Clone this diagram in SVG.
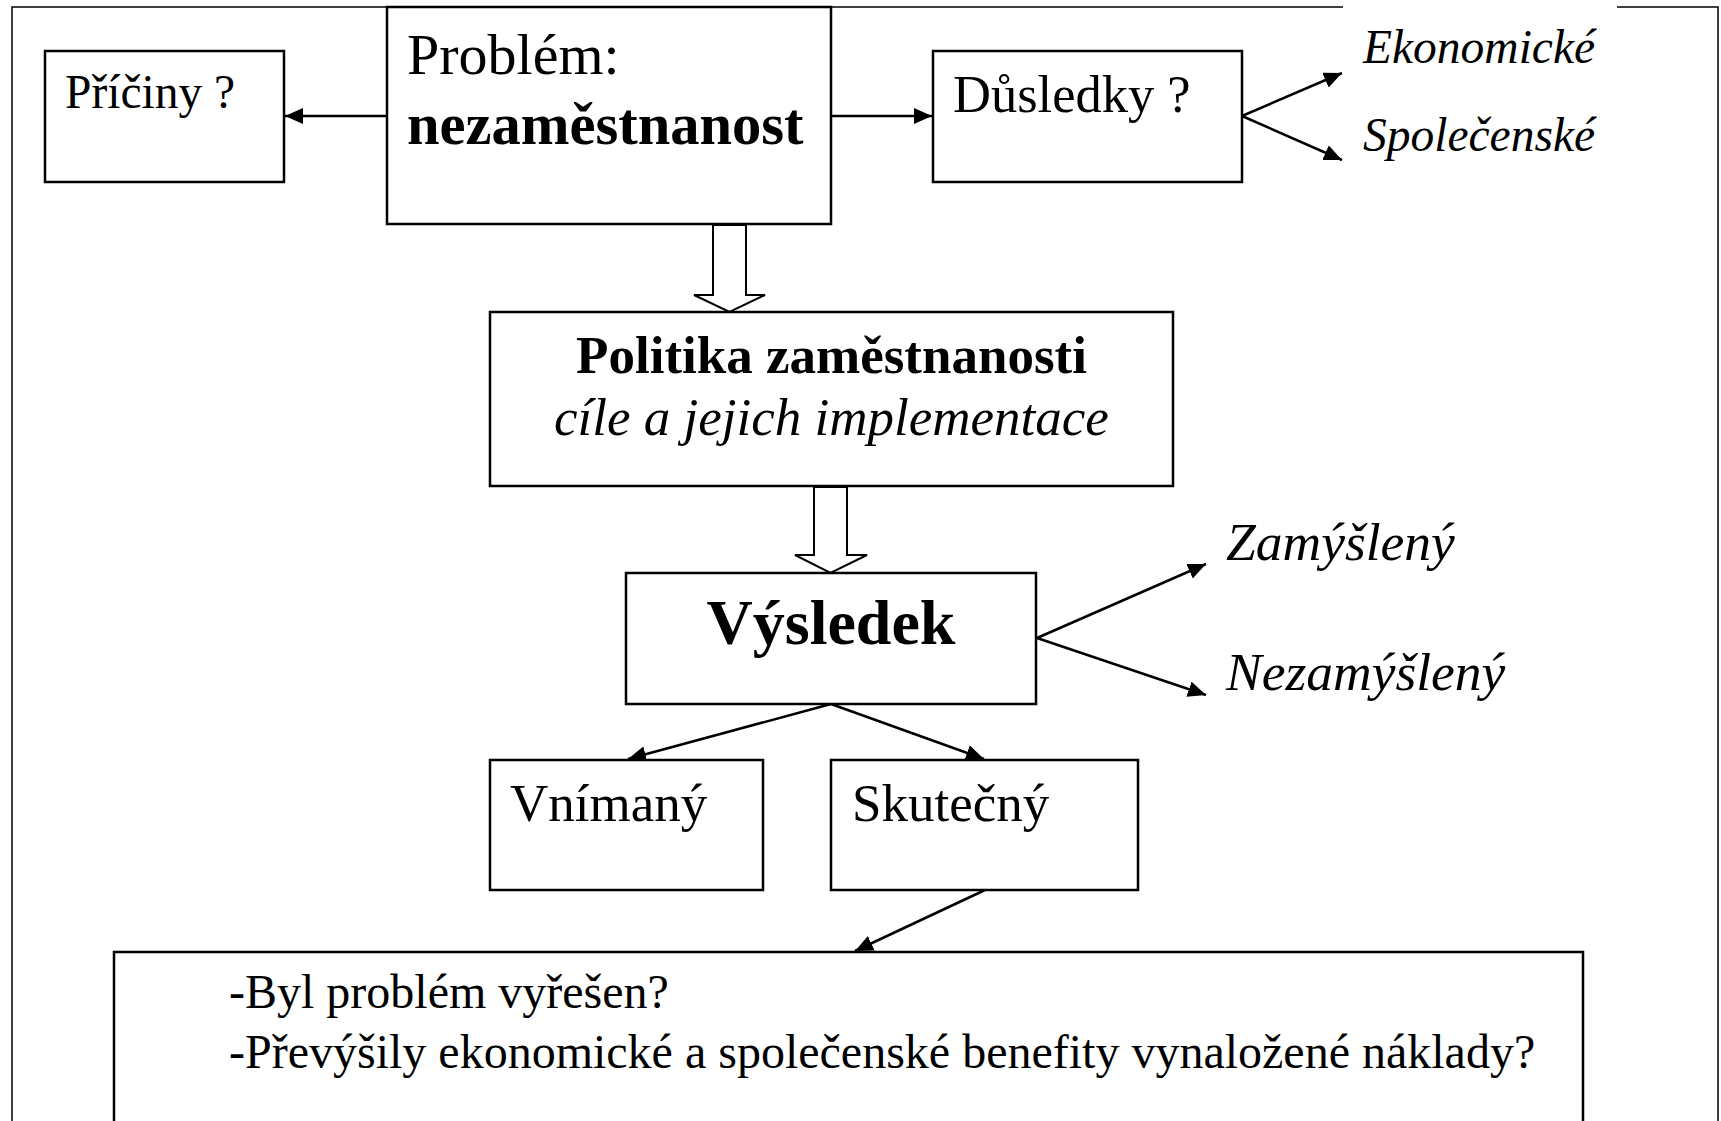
<svg xmlns="http://www.w3.org/2000/svg" width="1721" height="1121" viewBox="0 0 1721 1121">
<style>
  .box { fill: #fff; stroke: #000; stroke-width: 2.5; }
  .frame { fill: none; stroke: #000; stroke-width: 1.5; }
  .conn { fill: none; stroke: #000; stroke-width: 2.5; }
  .hollow { fill: #fff; stroke: #000; stroke-width: 2; stroke-linejoin: miter; }
  text { font-family: "Liberation Serif", "Times New Roman", serif; fill: #000; }
  .it { font-style: italic; }
  .b { font-weight: bold; }
</style>
<defs>
  <marker id="ah" markerUnits="userSpaceOnUse" markerWidth="19" markerHeight="17" refX="18" refY="8" orient="auto">
    <path d="M0,0 L18,8 L0,16 z" fill="#000"/>
  </marker>
</defs>
<rect width="1721" height="1121" fill="#fff"/>
<g id="frame">
  <path class="frame" d="M12,1121 L12,7 L1343,7 M1617,7 L1718,7 L1718,1121"/>
</g>
<g id="connectors">
  <line class="conn" x1="387" y1="116" x2="285" y2="116" marker-end="url(#ah)"/>
  <line class="conn" x1="831" y1="116" x2="932" y2="116" marker-end="url(#ah)"/>
  <line class="conn" x1="1242" y1="116" x2="1342" y2="73" marker-end="url(#ah)"/>
  <line class="conn" x1="1242" y1="116" x2="1342" y2="160" marker-end="url(#ah)"/>
  <path class="hollow" d="M713,225 L746,225 L746,295 L765,295 L729.5,312 L694,295 L713,295 Z"/>
  <path class="hollow" d="M814,487 L847,487 L847,555 L867,555 L830.5,573 L795,555 L814,555 Z"/>
  <line class="conn" x1="1037" y1="638" x2="1206" y2="564" marker-end="url(#ah)"/>
  <line class="conn" x1="1037" y1="638" x2="1206" y2="695" marker-end="url(#ah)"/>
  <line class="conn" x1="831" y1="704" x2="628" y2="759" marker-end="url(#ah)"/>
  <line class="conn" x1="831" y1="704" x2="984" y2="759" marker-end="url(#ah)"/>
  <line class="conn" x1="985" y1="890" x2="855" y2="951" marker-end="url(#ah)"/>
</g>
<g id="node-priciny">
  <rect class="box" x="45" y="51" width="239" height="131"/>
  <text x="65" y="108" font-size="47.5">Příčiny ?</text>
</g>
<g id="node-problem">
  <rect class="box" x="387" y="7" width="444" height="217"/>
  <text x="407" y="74" font-size="58">Problém:</text>
  <text x="407" y="144" font-size="58.5" class="b">nezaměstnanost</text>
</g>
<g id="node-dusledky">
  <rect class="box" x="933" y="51" width="309" height="131"/>
  <text x="953" y="112" font-size="52.5">Důsledky ?</text>
</g>
<g id="label-ekonomicke">
  <text x="1363" y="63" font-size="47.5" class="it">Ekonomické</text>
</g>
<g id="label-spolecenske">
  <text x="1363" y="151" font-size="47.5" class="it">Společenské</text>
</g>
<g id="node-politika">
  <rect class="box" x="490" y="312" width="683" height="174"/>
  <text x="831.5" y="373" font-size="53" class="b" text-anchor="middle">Politika zaměstnanosti</text>
  <text x="831.5" y="435" font-size="53" class="it" text-anchor="middle">cíle a jejich implementace</text>
</g>
<g id="node-vysledek">
  <rect class="box" x="626" y="573" width="410" height="131"/>
  <text x="831" y="644" font-size="64" class="b" text-anchor="middle">Výsledek</text>
</g>
<g id="label-zamysleny">
  <text x="1226" y="560" font-size="53.5" class="it">Zamýšlený</text>
</g>
<g id="label-nezamysleny">
  <text x="1226" y="690" font-size="53.5" class="it">Nezamýšlený</text>
</g>
<g id="node-vnimany">
  <rect class="box" x="490" y="760" width="273" height="130"/>
  <text x="510" y="821" font-size="53">Vnímaný</text>
</g>
<g id="node-skutecny">
  <rect class="box" x="831" y="760" width="307" height="130"/>
  <text x="852" y="821" font-size="53">Skutečný</text>
</g>
<g id="node-hodnoceni">
  <path class="box" d="M114,1125 L114,952 L1583,952 L1583,1125"/>
  <text x="229" y="1008" font-size="48">-Byl problém vyřešen?</text>
  <text x="229" y="1068" font-size="48">-Převýšily ekonomické a společenské benefity vynaložené náklady?</text>
</g>
</svg>
